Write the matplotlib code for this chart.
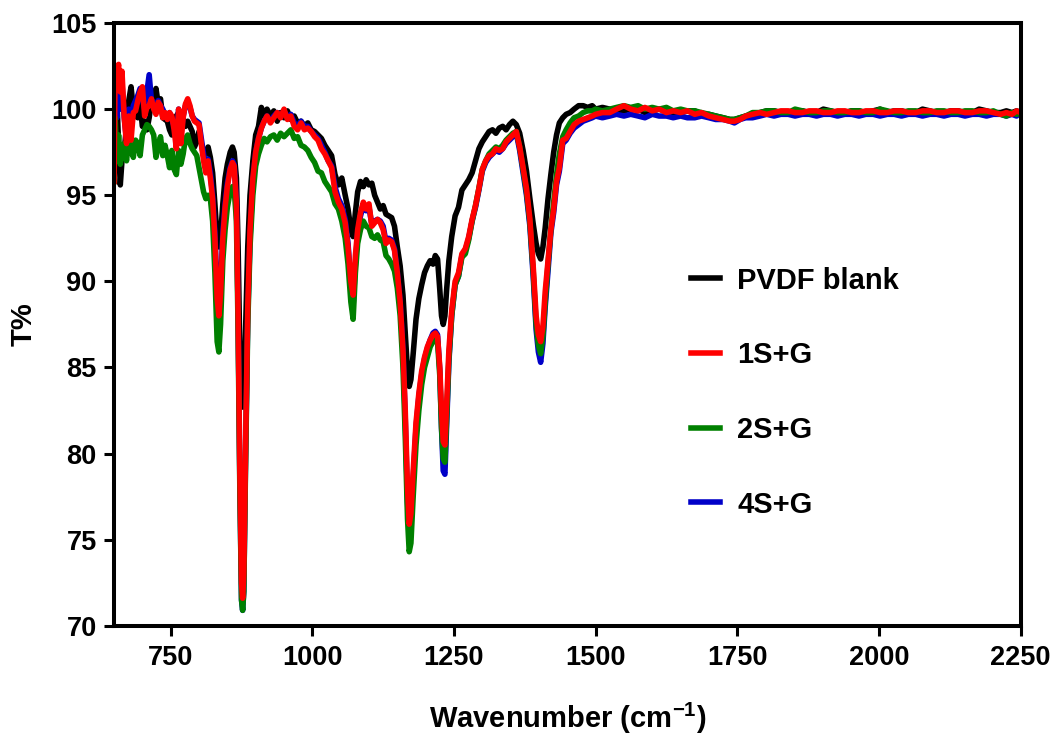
import matplotlib
matplotlib.use('Agg')
import matplotlib.pyplot as plt
import numpy as np

# FTIR spectra of the PVDF membranes
wavenumber = [650, 652, 655, 658, 661, 664, 668, 672, 676, 680, 684, 688, 692, 696, 700, 704, 708, 712, 716, 720,
              724, 728, 732, 736, 740, 744, 748, 752, 756, 760, 764, 768, 772, 776, 780, 784, 788, 792, 796, 800,
              804, 808, 812, 816, 820, 824, 828, 832, 835, 838, 842, 846, 850, 855, 859, 862, 866, 869, 872, 875,
              877, 879, 882, 886, 890, 895, 900,
              905, 910, 915, 920, 926, 932, 938, 944, 950, 956, 962, 968, 974, 980, 986, 992, 998, 1004, 1010, 1016,
              1022, 1028, 1034, 1040, 1046, 1052, 1058, 1063, 1068, 1072, 1076, 1080, 1085, 1090, 1095, 1100, 1105,
              1110, 1115, 1120, 1125, 1130, 1135, 1140, 1145, 1150, 1155, 1160,
              1164, 1168, 1171, 1174, 1178, 1183, 1188, 1193, 1198, 1203, 1208, 1213, 1217, 1221, 1225, 1228, 1231,
              1234, 1237, 1241, 1246, 1252,
              1258, 1264, 1270, 1276, 1282, 1288, 1294, 1300, 1306, 1312, 1318, 1324, 1330, 1336, 1342, 1348, 1354,
              1360, 1366, 1372, 1378, 1384, 1390, 1395, 1399, 1403, 1407, 1411, 1416, 1421, 1426, 1431, 1436, 1442,
              1448, 1455, 1462, 1470, 1478, 1486, 1494,
              1500, 1512, 1525, 1537, 1550, 1562, 1575, 1587, 1600, 1612, 1625, 1637, 1650, 1662, 1675, 1687, 1700,
              1712, 1725, 1737, 1745, 1755, 1765, 1777, 1790, 1802, 1815, 1827, 1840, 1852, 1865, 1877, 1890, 1902,
              1915, 1927, 1940, 1952, 1965, 1977, 1990, 2002, 2015, 2027, 2040, 2052, 2065, 2077, 2090, 2102, 2115,
              2127, 2140, 2152, 2165, 2177, 2190, 2202, 2215, 2225, 2235, 2243, 2250]

pvdf_blank = [96.0, 99.0, 100.6, 98.0, 95.6, 97.0, 97.6, 99.0, 100.5, 101.3, 100.0, 99.6, 99.5, 100.3, 99.0, 99.3,
              98.8, 99.5, 100.5, 100.2, 101.2, 100.3, 100.6, 99.5, 99.4, 99.3, 98.8, 98.5, 99.0, 99.6, 99.8, 98.9,
              99.4, 99.0, 99.3, 99.0, 98.7, 97.8, 98.2, 98.7, 98.0, 97.3, 97.5, 97.8, 97.2, 96.3, 94.5, 92.5, 92.0,
              92.6, 94.5, 96.0, 96.8, 97.5, 97.8, 97.5, 96.0, 92.0, 86.0, 83.0, 82.7, 83.5, 87.0, 92.0, 95.0, 97.0,
              98.5,
              99.0, 100.1, 99.6, 100.0, 99.6, 99.9, 99.3, 99.8, 99.5, 99.9, 99.4, 99.6, 99.2, 99.3, 99.0, 99.2, 98.8,
              98.7, 98.5, 98.3, 97.9, 97.6, 97.3, 96.2, 95.6, 96.0, 95.0, 94.2, 93.0, 92.6, 94.0, 95.2, 95.8, 95.5,
              95.9, 95.6, 95.7, 95.0, 94.6, 94.2, 94.4, 93.9, 93.8, 93.7, 93.2, 92.0, 90.9, 89.2,
              87.0, 84.8, 83.9, 84.3, 85.8, 87.8, 89.0, 89.8, 90.5, 90.9, 91.2, 91.0, 91.5, 91.3, 89.5, 88.0, 87.5,
              88.0, 89.5, 91.2, 92.6, 93.8,
              94.3, 95.3, 95.6, 95.9, 96.3, 97.0, 97.7, 98.1, 98.4, 98.7, 98.8, 98.6, 98.9, 99.0, 98.8, 99.1, 99.3,
              99.1, 98.6, 97.6, 96.4, 94.8, 93.3, 92.2, 91.6, 91.3, 92.0, 93.1, 94.8, 96.2, 97.5, 98.5, 99.2, 99.5,
              99.7, 99.8, 100.0, 100.2, 100.2, 100.1, 100.2,
              100.0, 100.1, 100.0, 99.9, 99.9, 100.0, 100.0, 99.8, 99.9, 100.0, 99.9, 99.8, 99.8, 99.9, 99.9, 99.7,
              99.7, 99.6, 99.5, 99.4, 99.4, 99.5, 99.6, 99.7, 99.8, 99.9, 99.9, 99.8, 99.8, 99.9, 99.9, 99.8, 99.8,
              100.0, 99.9, 99.8, 99.8, 99.9, 99.9, 99.8, 99.9, 100.0, 99.8, 99.9, 99.9, 99.8, 99.8, 100.0, 99.9, 99.8,
              99.8, 99.9, 99.9, 99.8, 99.8, 100.0, 99.9, 99.8, 99.8, 99.9, 99.8, 99.9, 99.8]

s1_g = [95.8, 102.5, 102.0, 102.6, 101.0, 102.2, 99.5, 98.0, 99.6, 98.2, 99.8, 99.9, 100.5, 101.0, 101.3, 99.6,
        100.1, 100.2, 100.6, 100.0, 99.7, 100.4, 100.2, 99.5, 99.8, 99.4, 99.8, 99.6, 98.8, 97.7, 100.0, 98.0,
        99.5, 100.3, 100.6, 100.2, 99.6, 99.3, 99.2, 99.1, 98.0, 97.0, 96.3, 97.0, 96.0, 94.8, 92.5, 89.0, 88.0,
        89.3, 92.5, 94.3, 95.5, 96.5, 96.9, 96.7, 94.5, 88.0, 79.0, 72.5, 71.6, 73.0, 80.0, 88.5, 93.0, 96.0,
        97.5,
        98.3, 98.9, 99.3, 99.6, 99.2, 99.5, 99.8, 99.5, 100.0, 99.4, 99.6, 99.0, 98.8, 99.2, 98.8, 98.9, 98.7,
        98.4, 98.2, 97.7, 97.4, 97.0, 96.6, 95.2, 94.6, 94.2, 93.4, 92.0, 90.0, 89.2, 91.5, 93.0, 94.0, 94.6,
        94.2, 94.5, 93.2, 93.4, 93.6, 93.4, 93.0, 92.2, 92.4, 92.3, 91.8, 90.5, 88.8, 86.0,
        82.5, 78.0, 75.9, 76.5, 79.0, 81.8, 83.5, 84.8, 85.6, 86.2, 86.6, 86.9, 87.0, 86.8, 85.0, 82.5, 80.7,
        80.5, 82.8, 86.0, 88.3, 90.0,
        90.5, 91.6, 91.9, 92.6, 93.6, 94.4, 95.4, 96.5, 97.0, 97.3, 97.4, 97.7, 97.6, 97.7, 98.1, 98.3, 98.5,
        98.7, 97.8, 96.6, 95.4, 93.6, 90.8, 88.0, 86.9, 86.5, 87.4, 89.4, 91.2, 93.0, 94.2, 95.8, 96.6, 98.2,
        98.3, 98.7, 99.1, 99.3, 99.4, 99.5, 99.6,
        99.7, 99.8, 99.8, 100.0, 100.2, 100.0, 99.9, 100.1, 99.9, 100.0, 99.8, 99.9, 99.8, 99.9, 99.7, 99.8,
        99.6, 99.5, 99.4, 99.3, 99.3, 99.4, 99.6, 99.7, 99.8, 99.7, 99.8, 99.9, 99.9, 99.8, 99.8, 99.9, 99.9,
        99.8, 99.8, 99.9, 99.9, 99.8, 99.8, 99.9, 99.9, 99.8, 99.8, 99.9, 99.9, 99.8, 99.8, 99.9, 99.9, 99.8,
        99.8, 99.9, 99.9, 99.8, 99.8, 99.9, 99.9, 99.8, 99.7, 99.8, 99.7, 99.9, 99.8]

s2_g = [95.8, 99.5, 97.0, 98.5, 96.8, 97.5, 98.0, 97.0, 98.3, 97.6, 97.2, 98.2, 98.0, 97.3, 98.5, 98.8,
        99.1, 99.0, 98.8, 98.5, 97.2, 97.9, 98.4, 97.3, 97.9, 97.3, 96.6, 97.6, 96.5, 96.2, 97.6, 96.8,
        97.4, 98.3, 98.5, 98.0, 97.7, 97.5, 97.3, 96.6, 95.9, 95.2, 94.8, 95.0, 94.8, 93.5, 90.5, 86.5, 85.9,
        87.5, 91.2, 93.0, 94.3, 95.2, 95.5, 95.4, 93.5, 87.0, 78.0, 71.5, 70.9, 72.0, 79.0, 87.5, 92.0, 95.0,
        96.7,
        97.4, 97.9, 98.3, 98.1, 98.4, 98.5, 98.2, 98.6, 98.4, 98.6, 98.8, 98.3, 98.4, 97.9, 97.8, 97.6, 97.2,
        96.9, 96.4, 96.3, 95.8, 95.5, 95.2, 94.5, 94.2, 93.5, 92.5, 91.0, 88.8, 87.8, 90.5, 92.2, 93.0, 93.5,
        93.2, 93.1, 92.6, 92.5, 92.7, 92.4, 92.3, 91.5, 91.3, 91.0, 90.6, 89.6, 88.0, 85.0,
        81.0, 76.2, 74.3, 74.8, 77.5, 80.5, 82.5, 84.0, 85.0, 85.6, 86.2, 86.5, 86.7, 86.5, 84.5, 81.5, 79.7,
        79.5, 82.0, 85.5, 88.0, 89.8,
        90.3, 91.4, 91.6, 92.4, 93.5, 94.4, 95.4, 96.5, 97.0, 97.4, 97.6, 97.8, 97.7, 97.9, 98.2, 98.4, 98.6,
        98.7, 97.8, 96.5, 95.2, 93.4, 90.5, 87.5, 86.3, 85.8, 86.8, 88.8, 91.0, 93.0, 94.6, 96.2, 97.4, 98.4,
        98.8, 99.2, 99.5, 99.6, 99.8, 99.9, 99.9,
        100.0, 99.9, 100.0, 100.1, 100.2, 100.1, 100.2, 100.0, 100.1, 100.0, 100.1, 99.9, 100.0, 99.9, 99.9,
        99.8, 99.7, 99.6, 99.5, 99.4, 99.4, 99.5, 99.6, 99.8, 99.8, 99.9, 99.9, 99.8, 99.8, 100.0, 99.9, 99.8,
        99.8, 99.9, 99.9, 99.8, 99.8, 99.9, 99.9, 99.8, 99.8, 100.0, 99.9, 99.8, 99.8, 99.9, 99.9, 99.8, 99.8,
        99.9, 99.9, 99.8, 99.8, 99.9, 99.9, 99.8, 99.8, 99.9, 99.7, 99.6, 99.8, 99.7, 99.8]

s4_g = [96.0, 100.8, 99.5, 101.0, 100.0, 101.5, 99.5, 98.2, 100.0, 99.0, 100.2, 100.5, 100.8, 101.2, 100.6, 100.0,
        101.0, 102.0, 100.5, 100.4, 100.0, 100.5, 100.2, 100.0, 99.7, 99.6, 99.8, 99.4, 99.0, 98.2, 100.0, 98.5,
        99.6, 100.2, 100.4, 100.1, 99.6, 99.4, 99.3, 99.2, 98.3, 97.4, 96.6, 97.1, 96.3, 95.0, 92.8, 89.3, 88.3,
        89.6, 92.8, 94.5, 95.7, 96.6, 97.0, 96.8, 94.7, 88.0, 78.5, 71.5, 70.9, 72.0, 79.5, 88.0, 92.5, 95.8,
        97.5,
        98.3, 98.9, 99.3, 99.6, 99.3, 99.6, 99.8, 99.6, 99.9, 99.5, 99.7, 99.2, 99.0, 99.3, 99.0, 99.0, 98.7,
        98.5, 98.3, 97.9, 97.5, 97.0, 96.7, 95.5, 94.8, 94.4, 93.6, 92.2, 89.8, 88.6, 91.0, 92.8, 93.8, 94.4,
        94.1, 94.3, 93.3, 93.5, 93.6, 93.5, 93.2, 92.3, 92.5, 92.4, 91.9, 90.5, 88.8, 86.0,
        82.0, 77.2, 75.2, 75.8, 78.5, 81.5, 83.3, 84.6, 85.5, 86.1, 86.6, 87.0, 87.1, 86.9, 84.8, 81.5, 79.0,
        78.8, 81.6, 85.3, 88.0, 89.8,
        90.3, 91.5, 91.8, 92.5, 93.5, 94.3, 95.3, 96.4, 96.9, 97.2, 97.4, 97.6, 97.5, 97.7, 98.0, 98.2, 98.4,
        98.6, 97.6, 96.3, 95.0, 93.2, 90.2, 87.2, 85.9, 85.3, 86.4, 88.5, 90.6, 92.8, 94.0, 95.6, 96.4, 98.0,
        98.2, 98.6, 98.9, 99.1, 99.3, 99.4, 99.5,
        99.6, 99.5, 99.6, 99.7, 99.6, 99.7, 99.6, 99.5, 99.7, 99.6, 99.6, 99.5, 99.6, 99.5, 99.5, 99.6, 99.5,
        99.4, 99.4, 99.3, 99.2, 99.4, 99.5, 99.5, 99.6, 99.7, 99.6, 99.7, 99.7, 99.6, 99.7, 99.7, 99.6, 99.7,
        99.7, 99.6, 99.7, 99.7, 99.6, 99.7, 99.7, 99.6, 99.7, 99.7, 99.6, 99.7, 99.7, 99.6, 99.7, 99.7, 99.6,
        99.7, 99.7, 99.6, 99.7, 99.7, 99.6, 99.7, 99.7, 99.6, 99.7, 99.6, 99.8]

labels = ['PVDF blank', '1S+G', '2S+G', '4S+G']
colors = ['#000000', '#FF0000', '#008000', '#0000C8']
zorders = [2, 5, 4, 3]   # red on top, then green, blue, black underneath

plt.rcParams['font.family'] = ['Liberation Sans', 'DejaVu Sans']
plt.rcParams['font.weight'] = 'bold'
plt.rcParams['mathtext.fontset'] = 'custom'
plt.rcParams['mathtext.rm'] = 'Liberation Sans:bold'
plt.rcParams['mathtext.bf'] = 'Liberation Sans:bold'

fig = plt.figure(figsize=(10.56, 7.38), dpi=100)
ax = fig.add_axes([0.108, 0.152, 0.8584, 0.8168])

series = [pvdf_blank, s1_g, s2_g, s4_g]
lines = []
for i in range(4):
    ln, = ax.plot(wavenumber, series[i], color=colors[i], lw=4.0, label=labels[i],
                  solid_joinstyle='round', zorder=zorders[i])
    lines.append(ln)

ax.set_xlim(650, 2250)
ax.set_ylim(70, 105)
ax.set_xticks(np.arange(750, 2251, 250))
ax.set_yticks(np.arange(70, 106, 5))

for sp in ax.spines.values():
    sp.set_linewidth(2.9)
    sp.set_zorder(10)
ax.tick_params(axis='both', which='major', length=7, width=2.2, labelsize=19.5, direction='out')
ax.tick_params(axis='y', pad=5.5)
ax.tick_params(axis='x', pad=7)
for lab in ax.get_xticklabels() + ax.get_yticklabels():
    lab.set_fontweight('bold')

ax.set_xlabel(r'Wavenumber (cm$^{-1}$)', fontsize=21, fontweight='bold')
ax.set_ylabel('T%', fontsize=21, fontweight='bold')
ax.xaxis.set_label_coords(0.5, -0.125)
ax.yaxis.set_label_coords(-0.084, 0.5)

leg = ax.legend(lines, labels, loc='center left', bbox_to_anchor=(0.636, 0.387),
                frameon=False, fontsize=21, handlelength=1.0, handletextpad=0.6, labelspacing=1.6,
                borderpad=0, borderaxespad=0)
for t in leg.get_texts():
    t.set_fontweight('bold')

fig.savefig('out.png', dpi=100)
